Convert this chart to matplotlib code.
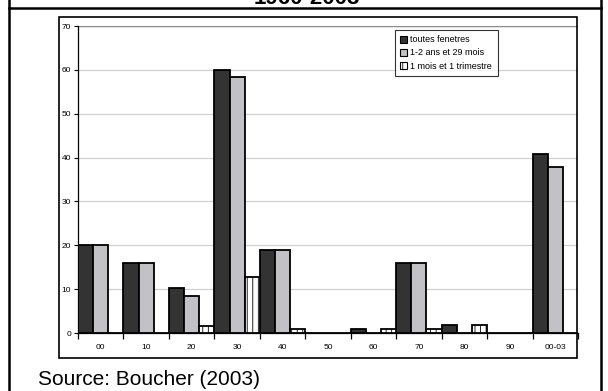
import numpy as np
import matplotlib.pyplot as plt
from matplotlib.patches import Rectangle, Patch
from matplotlib.lines import Line2D

plt.rcParams['font.family'] = ['Liberation Sans', 'DejaVu Sans']
plt.rcParams['hatch.color'] = '#9a9a9a'
plt.rcParams['hatch.linewidth'] = 0.6

# Données
categories = ["00", "10", "20", "30", "40", "50", "60", "70", "80", "90", "00-03"]
toutes = [20, 16, 10.2, 60, 19, 0, 0.8, 16, 1.8, 0, 40.8]
ans_mois = [20, 16, 8.4, 58.3, 19, 0, 0, 16, 0, 0, 37.8]
mois_trim = [0, 0, 1.7, 12.7, 0.9, 0, 0.8, 0.8, 1.8, 0, 0]
labels = ["toutes fenetres", "1-2 ans et 29 mois", "1 mois et 1 trimestre"]
yticks = [0, 10, 20, 30, 40, 50, 60, 70]

W, H = 608, 391
fig = plt.figure(figsize=(W / 100, H / 100), dpi=100)

# cadre extérieur
fig.add_artist(Line2D([9 / W, 9 / W], [0, 1], color='black', lw=1.8))
fig.add_artist(Line2D([601 / W, 601 / W], [0, 1], color='black', lw=1.8))
fig.add_artist(Line2D([9 / W, 601 / W], [1 - 7.5 / H, 1 - 7.5 / H], color='black', lw=1.8))
# titre coupé en haut, comme dans l'original
fig.text(307 / W, 1 - 4 / H, "1960-2003", ha='center', va='baseline',
         fontsize=16, fontweight='bold')

# cadre du graphique
fig.add_artist(Rectangle((59 / W, 1 - 358 / H), (577 - 59) / W, (358 - 17) / H,
                         transform=fig.transFigure, fill=False, ec='black', lw=1.2))

ax = fig.add_axes([78 / W, 1 - 333 / H, 500 / W, (333 - 26) / H])
x = np.arange(len(categories))
w = 1 / 3
ax.bar(x - w, toutes, w, color='#333333', edgecolor='black', lw=1.3, zorder=3)
ax.bar(x, ans_mois, w, color='#c2c1c6', edgecolor='black', lw=1.3, zorder=3)
ax.bar(x + w, mois_trim, w, color='white', edgecolor='black', lw=1.3,
       hatch='|||', zorder=3)

ax.set_xlim(-0.5, len(categories) - 0.5)
ax.set_ylim(0, 70)
ax.set_yticks(yticks)
ax.set_yticklabels([str(v) for v in yticks], fontsize=6)
ax.yaxis.grid(True, color='#d0d0d0', lw=0.9)
ax.axhline(70, color='#8c8c8c', lw=1.0, zorder=2)
ax.set_axisbelow(True)
ax.set_xticks(x)
ax.set_xticklabels(categories, fontsize=6)
ax.tick_params(axis='x', length=0, pad=8)
ax.set_xticks(np.arange(-0.5, len(categories)), minor=True)
ax.tick_params(axis='x', which='minor', length=4, width=0.9, direction='out')
ax.tick_params(axis='y', length=3, width=0.8, pad=2)
for s in ['top', 'right']:
    ax.spines[s].set_visible(False)
ax.spines['left'].set_linewidth(0.9)
ax.spines['bottom'].set_linewidth(0.9)

handles = [Patch(fc='#333333', ec='black', lw=0.8),
           Patch(fc='#c2c1c6', ec='black', lw=0.8),
           Patch(fc='white', ec='black', lw=0.8, hatch='|||')]
leg = ax.legend(handles, labels, loc='upper left',
                bbox_to_anchor=((395 - 78) / 500, 1 - (30 - 26) / 307),
                fontsize=6.5, frameon=True, fancybox=False, edgecolor='black',
                handlelength=0.7, handleheight=0.9, handletextpad=0.4,
                borderpad=0.6, labelspacing=0.45, borderaxespad=0)
leg.get_frame().set_linewidth(0.8)

fig.text(38 / W, 1 - 385 / H, "Source: Boucher (2003)", ha='left', va='baseline',
         fontsize=15)

fig.savefig("out.png", dpi=100)
